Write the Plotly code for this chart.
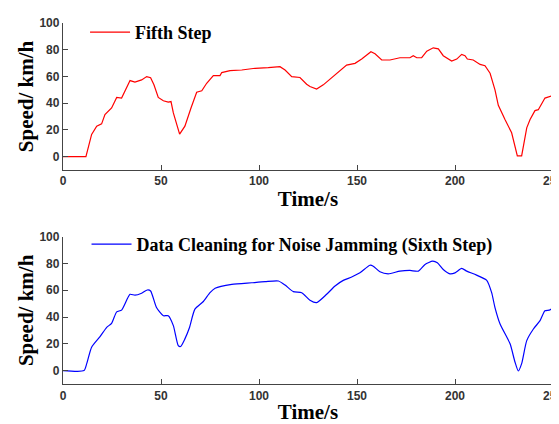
import plotly.graph_objects as go
from plotly.subplots import make_subplots

# ---- data ----
time_fifth = [0, 11.7, 14.6, 17.2, 19.7, 21.4, 24.8, 27.4, 29.9, 34.2, 36.7, 40.1, 42.7, 44.7,
              46.4, 48.6, 51.2, 53.7, 55.1, 56.3, 59.5, 62.2, 65.3, 68.2, 70.8, 73.3, 76.7,
              80.1, 81, 85.2, 91.2, 98, 104.7, 110.7, 113.3, 116.7, 120.9, 124.3, 126, 129.4,
              132.8, 137.1, 141.3, 144.7, 149, 152.4, 157.1, 159.2, 162.6, 166.8, 171.9, 177,
              178.7, 180.5, 183, 185.6, 188.9, 191.5, 194, 198.3, 200.9, 203.4, 205.1, 206.3,
              209.3, 212.8, 215.3, 217.9, 220.4, 222.1, 225.5, 228.9, 231.8, 234, 236.6, 238.3,
              240.8, 242.5, 245.9, 248.5, 250]
speed_fifth = [0, 0, 16.6, 22.8, 24.5, 31.4, 36.4, 44.3, 43.8, 56.9, 55.7, 57.4, 59.9, 59,
               53.7, 44.3, 41.8, 40.8, 41.2, 32.7, 16.8, 22.8, 36.4, 48.2, 49.2, 54.9, 60.6,
               60.6, 62.9, 64.4, 64.8, 66.1, 66.6, 67.3, 64.8, 59.9, 59.2, 54.2, 52.5, 50.5,
               53.7, 59.2, 64.8, 68.5, 69.8, 73, 78.5, 77, 72.3, 72.3, 74, 74,
               75.5, 74, 74, 78.9, 81.4, 80.6, 75.5, 71.5, 73, 76.5, 75.5, 73,
               72.3, 69, 68, 62.4, 50, 38.4, 27.7, 17.8, 0.5, 0.5, 21.5, 27.7,
               34.4, 35.1, 43.8, 44.8, 45.8]

time_sixth = [0, 10.7, 12.1, 14.6, 18.9, 22.3, 24.8, 27.4, 29.9, 34.2, 36.7, 40.1, 43, 44.7,
              47.7, 51.2, 53.7, 56.3, 58.8, 60, 62.2, 64.5, 67.3, 71.6, 75, 77.6, 86.1, 96.3,
              103.1, 109.9, 113.3, 117.5, 121.8, 126, 129.4, 134.5, 138.8, 143, 147.3, 151.5,
              156.6, 158.3, 161.7, 165.9, 171.9, 177, 181.3, 184.7, 188.6, 191, 194, 197.4,
              200, 203.4, 206, 211, 216.2, 218.7, 220.4, 223, 228.1, 230.6, 232.3, 234, 236.6,
              240, 243.4, 245.9, 248.1, 250]
speed_sixth = [0, 0, 5.2, 17.5, 25.4, 32.3, 35.3, 43.9, 45.2, 57, 56.3, 57.8, 60.2, 59.5,
               47.1, 41, 41, 33.6, 18.7, 18, 23.7, 32, 45.9, 51.6, 58.2, 61.5, 64.4, 65.6,
               66.4, 66.9, 63.9, 59, 58.2, 52.6, 50.8, 57, 63.2, 67.4, 69.9, 73,
               78.7, 78, 73.8, 72.3, 74.3, 74.8, 74.3, 79.3, 81.7, 80.5, 75.5, 72.3,
               73, 76.3, 74.3, 71.3, 67.4, 58.2, 47.1, 34.8, 20, 6.4, -0.3, 5.2, 22.4,
               31.1, 37.3, 44.7, 45.2, 46.7]

x_ticks = [0, 50, 100, 150, 200, 250]
y_ticks = [0, 20, 40, 60, 80, 100]

fig = make_subplots(rows=2, cols=1, vertical_spacing=0.185)

fig.add_trace(go.Scatter(x=time_fifth, y=speed_fifth, mode="lines", name="Fifth Step",
                         line=dict(color="#FF0000", width=1.2), legend="legend"), row=1, col=1)
fig.add_trace(go.Scatter(x=time_sixth, y=speed_sixth, mode="lines",
                         name="Data Cleaning for Noise Jamming (Sixth Step)",
                         line=dict(color="#0000FF", width=1.2, shape="spline", smoothing=0.6),
                         legend="legend2"), row=2, col=1)

tickfont = dict(family="Liberation Sans", size=12, color="#333333", weight="bold")
titlefont = dict(family="Liberation Serif", size=21, color="black", weight="bold")

for r in (1, 2):
    fig.update_xaxes(range=[0, 250], tickvals=x_ticks, ticks="inside", ticklen=5,
                     showline=True, linecolor="#444444", linewidth=1.3, tickcolor="#444444",
                     showgrid=False, zeroline=False, tickfont=tickfont, automargin=False,
                     ticklabeloverflow="allow",
                     title=dict(text="Time/s", font=titlefont, standoff=3), row=r, col=1)
    fig.update_yaxes(range=[-10, 100], tickvals=y_ticks, ticks="inside", ticklen=5,
                     showline=True, linecolor="#444444", linewidth=1.3, tickcolor="#444444",
                     showgrid=False, zeroline=False, tickfont=tickfont, automargin=False,
                     title=dict(text="Speed/ km/h", font=titlefont, standoff=0), row=r, col=1)

legfont = dict(family="Liberation Serif", size=18, color="black", weight="bold")
# the page body has an 8px default margin, so the figure is drawn 8px smaller
fig.update_layout(
    width=551, height=416,
    margin=dict(l=55, r=6, t=11, b=40),
    paper_bgcolor="white", plot_bgcolor="white",
    showlegend=True,
    legend=dict(x=0.045, y=1.025, xanchor="left", yanchor="top", bgcolor="rgba(0,0,0,0)",
                itemwidth=40, font=legfont),
    legend2=dict(x=0.048, y=0.438, xanchor="left", yanchor="top", bgcolor="rgba(0,0,0,0)",
                 itemwidth=40, font=legfont),
)
fig.update_layout(yaxis=dict(domain=[0.593, 1.0]), yaxis2=dict(domain=[0.0, 0.408]))

fig.write_html("out.html")
